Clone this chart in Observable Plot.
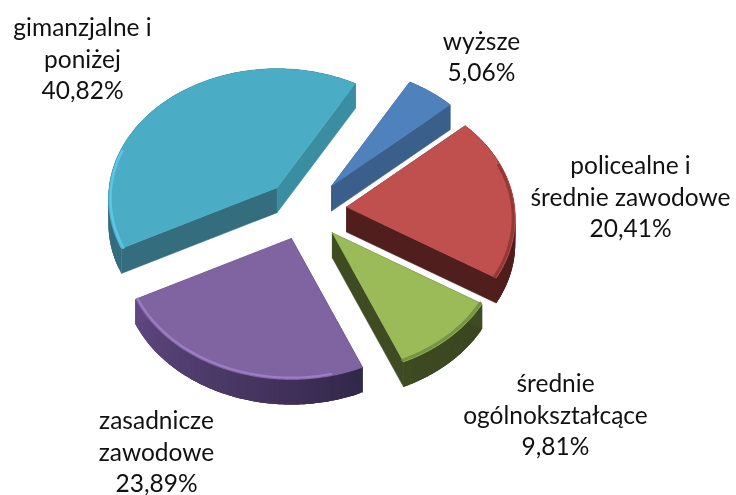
<!DOCTYPE html>
<html><head><meta charset="utf-8">
<style>html,body{margin:0;padding:0;background:#fff}svg{display:block}</style>
<script src="https://cdn.jsdelivr.net/npm/d3@7"></script>
<script src="https://cdn.jsdelivr.net/npm/@observablehq/plot@0.6"></script>
</head><body>
<div id="chart"></div>
<script>
// Data
const categories = ["wyższe","policealne i średnie zawodowe","średnie ogólnokształcące","zasadnicze zawodowe","gimanzjalne i poniżej"];
const values = [5.06,20.41,9.81,23.89,40.82];
const valueLabels = ["5,06%","20,41%","9,81%","23,89%","40,82%"];
const labelLines = ["wyższe","policealne i\nśrednie zawodowe","średnie\nogólnokształcące","zasadnicze\nzawodowe","gimanzjalne i\nponiżej"];
// Styles
const topColors  = ["#4F81BD","#C0504D","#9BBB59","#8064A2","#4BACC6"];
const startWallColors = ["#3A5F8A","#4F1E1D","#3F4B22","#33284A","#336D7E"];
const endWallColors   = ["#3A5F8A","#4F1E1D","#3F4B22","#5F4780","#3B8DA1"];
const rimFrom = ["#3A5F8A","#4F1E1D","#3A4620","#33284A","#336D7E"];   // clockwise start of rim
const rimTo   = ["#3A5F8A","#4F1E1D","#3F4B22","#5F4780","#336D7E"];   // clockwise end of rim
const bevels = [
  {slice:1, from:0.30, to:1.00, color:"#7E2F2D", width:3, opacity:0.7},
  {slice:2, from:0.00, to:1.00, color:"#6E8A3E", width:3, opacity:0.8},
  {slice:3, from:0.12, to:1.00, color:"#A080C8", width:2.2, opacity:0.9},
  {slice:4, from:0.00, to:0.30, color:"#5CC8E6", width:2.5, opacity:0.95}
];
// Layout (px)
const W = 736, H = 495, CX = 305, CY = 209.3, R = 168, KY = 129, P = 0.085;
const EXPLODE = 41.3, EXY = 0.74, DEPTH = 25, START = 30;
const labelX = [481,630,555,156,82];
const labelY = [55,195,413,450,57];

const total = d3.sum(values);
let acc = START * Math.PI / 180;
const slices = values.map((v,i) => {
  const a0 = acc, a1 = acc + v / total * 2 * Math.PI; acc = a1;
  const mid = (a0 + a1) / 2;
  return {i, a0, a1,
    ox: CX + EXPLODE * Math.sin(mid),
    oy: CY - EXPLODE * EXY * Math.cos(mid)};
});
function proj(s, a, r = 1) {
  const X = Math.sin(a) * r, Y = -Math.cos(a) * r;
  const k = 1 / (1 - P * Y);
  return [s.ox + R * X * k, s.oy + KY * Y * k];
}
const rimPts = (s, n = 90, t0 = 0, t1 = 1, r = 1) =>
  d3.range(n + 1).map(j => proj(s, s.a0 + (s.a1 - s.a0) * (t0 + (t1 - t0) * j / n), r));

const rimPolys = [], polys = [];
let zid = 0;
function addPoly(target, pts, color) {
  const z = zid++;
  pts.forEach(p => target.push({x:p[0], y:p[1], z, color}));
}
const bevelPts = [];
slices.forEach(s => {
  const apex = [s.ox, s.oy];
  const rim = rimPts(s);
  const down = p => [p[0], p[1] + DEPTH];
  const last = rim.length - 1;
  // rim: overlapping bands painted in sequence, so no seams show
  const shade = d3.interpolateRgb(rimFrom[s.i], rimTo[s.i]);
  for (let j = 0; j < last; j++) {
    const e = Math.min(j + 3, last);
    const band = rim.slice(j, e + 1);
    addPoly(rimPolys, [...band, ...band.map(down).reverse()], shade(j / (last - 1)));
  }
  addPoly(polys, [apex, rim[0], down(rim[0]), down(apex), apex], startWallColors[s.i]);
  addPoly(polys, [apex, rim[last], down(rim[last]), down(apex), apex], endWallColors[s.i]);
  addPoly(polys, [apex, ...rim, apex], topColors[s.i]);
});
bevels.forEach((b, bi) => {
  const s = slices[b.slice];
  rimPts(s, 60, b.from, b.to, 0.988).forEach(p => bevelPts.push({x:p[0], y:p[1], bi}));
});
const texts = categories.map((c,i) => ({
  text: labelLines[i] + "\n" + valueLabels[i], x: labelX[i], y: labelY[i]
}));

const plot = Plot.plot({
  width: W, height: H, margin: 0,
  x: {domain:[0,W], range:[0,W], axis:null},
  y: {domain:[0,H], range:[0,H], axis:null},
  style: {background:"#fff", filter:"blur(0.45px)"},
  marks: [
    Plot.line(rimPolys, {x:"x", y:"y", z:"z", fill:d=>d.color, stroke:"none"}),
    Plot.line(polys, {x:"x", y:"y", z:"z", fill:d=>d.color, stroke:d=>d.color, strokeWidth:0.6}),
    ...bevels.map((b,bi) => Plot.line(bevelPts.filter(d=>d.bi===bi), {
      x:"x", y:"y", stroke:b.color, strokeWidth:b.width, strokeOpacity:b.opacity})),
    Plot.text(texts, {x:"x", y:"y", text:"text", fontFamily:"Lato", fontSize:24.5,
      fill:"#111", lineHeight:1.29, lineAnchor:"middle", textAnchor:"middle"})
  ]
});
document.getElementById("chart").appendChild(plot);
</script>
</body></html>
